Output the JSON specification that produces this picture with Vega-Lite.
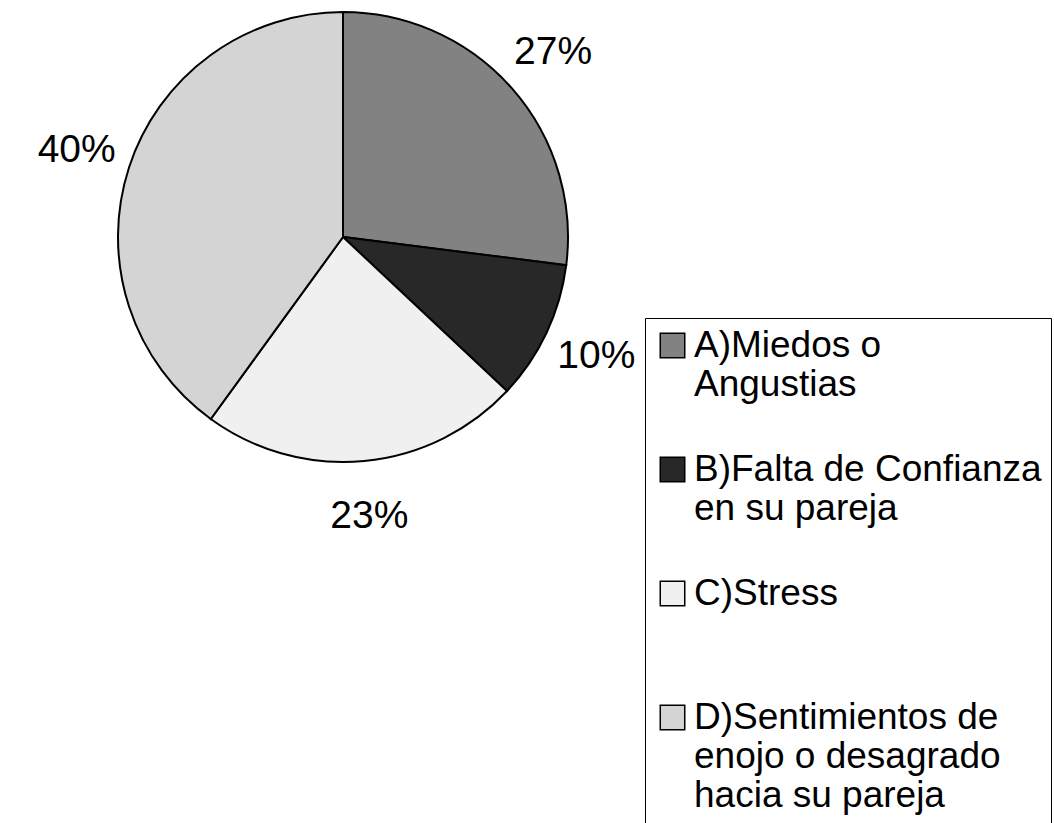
{
  "$schema": "https://vega.github.io/schema/vega-lite/v6.json",
  "width": 686,
  "height": 474,
  "padding": 0,
  "background": "white",
  "config": {"view": {"stroke": null}, "font": "Liberation Sans"},
  "data": {
    "values": [
      {"cat": "A)Miedos o|Angustias", "pct": 27, "label": "27%"},
      {"cat": "B)Falta de Confianza|en su pareja", "pct": 10, "label": "10%"},
      {"cat": "C)Stress", "pct": 23, "label": "23%"},
      {"cat": "D)Sentimientos de|enojo o desagrado|hacia su pareja", "pct": 40, "label": "40%"}
    ]
  },
  "encoding": {
    "theta": {"field": "pct", "type": "quantitative", "stack": true},
    "order": {"field": "cat", "type": "nominal"}
  },
  "layer": [
    {
      "mark": {"type": "arc", "outerRadius": 225, "stroke": "black", "strokeWidth": 2},
      "encoding": {
        "color": {
          "field": "cat",
          "type": "nominal",
          "scale": {
            "domain": ["A)Miedos o|Angustias", "B)Falta de Confianza|en su pareja", "C)Stress", "D)Sentimientos de|enojo o desagrado|hacia su pareja"],
            "range": ["#828282", "#282828", "#f0f0f0", "#d4d4d4"]
          },
          "legend": {
            "orient": "none",
            "legendX": 645,
            "legendY": 318,
            "title": null,
            "labelExpr": "split(datum.label, '|')",
            "labelFontSize": 37,
            "labelFont": "Liberation Sans",
            "labelColor": "black",
            "labelLimit": 0,
            "labelLineHeight": 41,
            "labelOffset": 3,
            "symbolType": "square",
            "symbolSize": 600,
            "symbolStrokeColor": "black",
            "symbolStrokeWidth": 1.5,
            "symbolOpacity": 1,
            "strokeColor": "black",
            "fillColor": "white",
            "padding": 9,
            "gridAlign": "all",
            "rowPadding": 8
          }
        }
      }
    },
    {
      "mark": {"type": "text", "radius": 280, "fontSize": 39, "font": "Liberation Sans", "color": "black"},
      "encoding": {"text": {"field": "label"}}
    }
  ]
}
